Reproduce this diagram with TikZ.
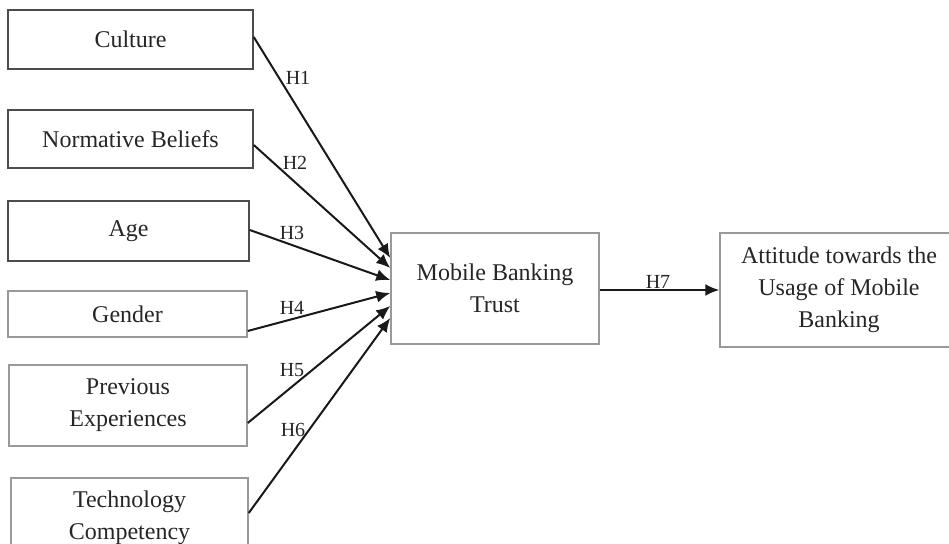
\documentclass[tikz,border=0pt]{standalone}
\usepackage{fontspec}
\setmainfont{Liberation Serif}
\usetikzlibrary{arrows.meta}

\begin{document}
\begin{tikzpicture}[x=0.5pt, y=-0.5pt,
	box/.style={draw=black!40, line width=0.75pt, fill=white, align=center, inner sep=0pt,
		font=\fontsize{12}{16}\selectfont, text=black!85},
	darkbox/.style={box, draw=black!70},
	lbl/.style={inner sep=0pt, font=\fontsize{10}{12}\selectfont, text=black!85},
	hyp/.style={-{Latex[length=7pt, width=6pt]}, line width=1pt, black!90}]
				\clip (0,0) rectangle (949,544);
				\fill[white] (0,0) rectangle (949,544);
				\node[darkbox, minimum width=122.5pt, minimum height=29.5pt] (cult) at (130.5,39.5) {Culture};
				\node[darkbox, minimum width=122.5pt, minimum height=29pt] (norm) at (130.5,139) {Normative Beliefs};
				\node[darkbox, minimum width=120.5pt, minimum height=30pt] (age) at (128.5,231) {Age};
				\node[box, minimum width=119.5pt, minimum height=23pt] (gend) at (127.5,314) {Gender};
				\node[box, minimum width=119pt, minimum height=40.5pt] (prev) at (128,405.5) {Previous\\Experiences};
				\node[box, minimum width=118.5pt, minimum height=40pt] (tech) at (129.5,518) {Technology\\Competency};
				\node[box, minimum width=104pt, minimum height=55.5pt] (trust) at (495,288.5) {Mobile Banking\\Trust};
				\node[box, minimum width=119pt, minimum height=57pt] (att) at (839,290) {Attitude towards the\\Usage of Mobile\\Banking};
				\node[lbl] (h1) at (298,78) {H1};
				\node[lbl] (h2) at (295,163) {H2};
				\node[lbl] (h3) at (292,233) {H3};
				\node[lbl] (h4) at (292,308) {H4};
				\node[lbl] (h5) at (292,370) {H5};
				\node[lbl] (h6) at (293,430) {H6};
				\node[lbl] (h7) at (658,282) {H7};
				\draw[hyp] ([yshift=1.25pt]cult.east) -- ([yshift=15.25pt]trust.west);
				\draw[hyp] ([yshift=-3pt]norm.east) -- ([yshift=10.25pt]trust.west);
				\draw[hyp] ([yshift=0.5pt]age.east) -- ([yshift=4.25pt]trust.west);
				\draw[hyp] ([yshift=-8.5pt]gend.east) -- ([yshift=-2.25pt]trust.west);
				\draw[hyp] ([yshift=-8.75pt]prev.east) -- ([yshift=-8.75pt]trust.west);
				\draw[hyp] ([yshift=2.5pt]tech.east) -- ([yshift=-14.75pt]trust.west);
				\draw[hyp] ([yshift=-0.75pt]trust.east) -- ([yshift=0pt]att.west);
		\end{tikzpicture}
\end{document}
